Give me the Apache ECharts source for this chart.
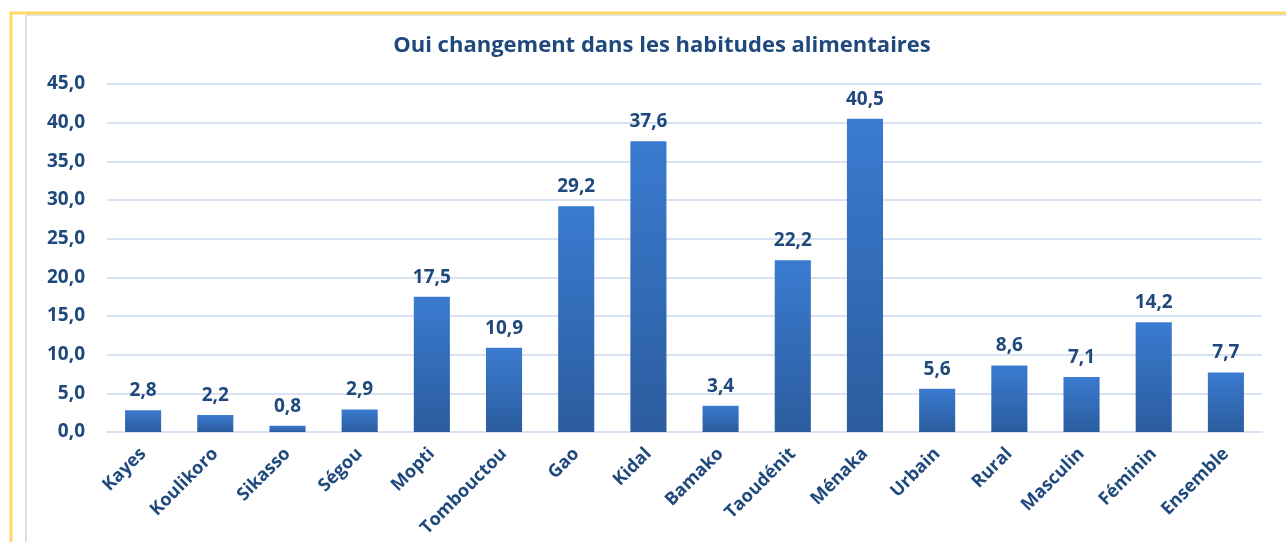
<!DOCTYPE html>
<html>
<head>
<meta charset="utf-8">
<title>ECharts</title>
<script src="https://cdn.jsdelivr.net/npm/echarts@6/dist/echarts.min.js"></script>
<style>
	html, body { margin: 0; padding: 0; background: #fff; }
</style>
</head>
<body>
	<div id="main" style="width: 1286px; height: 542px;"></div>
	<script type="text/javascript">
		var categories = ['Kayes', 'Koulikoro', 'Sikasso', 'Ségou', 'Mopti', 'Tombouctou', 'Gao', 'Kidal',
			'Bamako', 'Taoudénit', 'Ménaka', 'Urbain', 'Rural', 'Masculin', 'Féminin', 'Ensemble'];
		var values = [2.8, 2.2, 0.8, 2.9, 17.5, 10.9, 29.2, 37.6, 3.4, 22.2, 40.5, 5.6, 8.6, 7.1, 14.2, 7.7];
		var yTicks = [0, 5, 10, 15, 20, 25, 30, 35, 40, 45];

		var textColor = '#1f497d';
		var fontFam = '"Open Sans", Lato, sans-serif';

		function fmt(v) {
			return v.toFixed(1).replace('.', ',');
		}

		var myChart = echarts.init(document.getElementById('main'));

		var option = {
			backgroundColor: '#fff',
			animation: false,
			title: {
				text: 'Oui changement dans les habitudes alimentaires',
				left: 657,
				textAlign: 'center',
				top: 30,
				textStyle: {
					color: textColor,
					fontFamily: fontFam,
					fontWeight: 'bold',
					fontSize: 22
				}
			},
			graphic: [{
				type: 'line',
				shape: { x1: 26, y1: 15, x2: 26, y2: 542 },
				style: { stroke: '#d6e0f0', lineWidth: 2 }
			}, {
				type: 'line',
				shape: { x1: 26, y1: 15, x2: 1286, y2: 15 },
				style: { stroke: '#dde5f2', lineWidth: 2 }
			}, {
				type: 'rect',
				shape: { x: 11, y: 13, width: 1300, height: 560 },
				style: { fill: 'none', stroke: '#ffd966', lineWidth: 3 }
			}],
			grid: {
				left: 107,
				right: 24,
				top: 84,
				bottom: 110
			},
			xAxis: {
				type: 'category',
				data: categories,
				axisTick: { show: false },
				axisLine: { lineStyle: { color: '#d9e2f3', width: 2 } },
				axisLabel: {
					rotate: 45,
					interval: 0,
					margin: 19,
					color: textColor,
					fontFamily: fontFam,
					fontWeight: 'bold',
					fontSize: 18
				}
			},
			yAxis: {
				type: 'value',
				min: yTicks[0],
				max: yTicks[yTicks.length - 1],
				interval: 5,
				axisLine: { show: false },
				axisTick: { show: false },
				splitLine: { lineStyle: { color: '#d9e2f3', width: 2 } },
				axisLabel: {
					margin: 22,
					color: textColor,
					fontFamily: fontFam,
					fontWeight: 'bold',
					fontSize: 19,
					formatter: function (v) { return fmt(v); }
				}
			},
			series: [{
				type: 'bar',
				data: values,
				barWidth: '50%',
				itemStyle: {
					color: new echarts.graphic.LinearGradient(0, 0, 0, 1, [
						{ offset: 0, color: '#3a7bd0' },
						{ offset: 1, color: '#2b5c9e' }
					])
				},
				label: {
					show: true,
					position: 'top',
					distance: 10,
					color: textColor,
					fontFamily: fontFam,
					fontWeight: 'bold',
					fontSize: 19,
					formatter: function (p) { return fmt(p.value); }
				}
			}]
		};
		myChart.setOption(option);
	</script>
</body>
</html>
